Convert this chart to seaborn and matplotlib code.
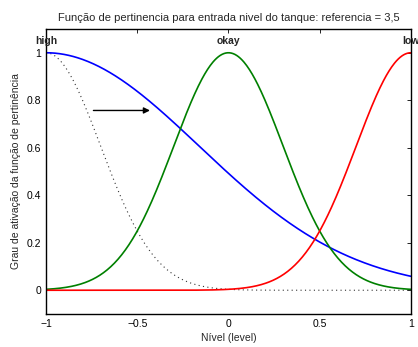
import numpy as np
import pandas as pd
import matplotlib
matplotlib.use("Agg")
import matplotlib.pyplot as plt
import seaborn as sns

# Gaussian membership functions: name, centre, sigma
labels = ["high", "okay", "low"]
centers = [-1.0, 0.0, 1.0]
sigmas = [0.84, 0.30, 0.30]
colors = ["#0000ff", "#008000", "#ff0000"]

# reference curve (dotted) centred at the left end
ref_center = -1.0
ref_sigma = 0.30

# arrow marking the shift of the reference
arrow_start = (-0.74, 0.757)
arrow_end = (-0.43, 0.757)

x_ticks = [-1, -0.5, 0, 0.5, 1]
x_tick_labels = ["\u22121", "\u22120.5", "0", "0.5", "1"]
y_ticks = [0, 0.2, 0.4, 0.6, 0.8, 1]
y_tick_labels = ["0", "0.2", "0.4", "0.6", "0.8", "1"]


def gaussmf(x, c, s):
    return np.exp(-((x - c) ** 2) / (2 * s ** 2))


sns.set_style("white")
plt.rcParams["font.family"] = ["Liberation Sans", "DejaVu Sans"]

x = np.linspace(-1, 1, 401)
frames = []
for name, c, s in zip(labels, centers, sigmas):
    frames.append(pd.DataFrame({"x": x, "y": gaussmf(x, c, s), "mf": name}))
df = pd.concat(frames, ignore_index=True)
ref = pd.DataFrame({"x": x, "y": gaussmf(x, ref_center, ref_sigma)})

fig = plt.figure(figsize=(4.18, 3.47), dpi=100)
ax = fig.add_axes([0.110, 0.0951, 0.873, 0.8213])

sns.lineplot(data=ref, x="x", y="y", ax=ax, color="#333333", lw=0.8,
             linestyle=(0, (1, 3)), legend=False)
sns.lineplot(data=df, x="x", y="y", hue="mf", palette=dict(zip(labels, colors)),
             ax=ax, lw=1.2, legend=False)

for name, c in zip(labels, centers):
    ax.text(c, 1.05, name, ha="center", va="center", fontsize=7.5,
            fontweight="bold", clip_on=False)

ax.annotate("", xy=arrow_end, xytext=arrow_start,
            arrowprops=dict(arrowstyle="-|>", color="black", lw=1.0,
                            mutation_scale=9, shrinkA=0, shrinkB=0))

ax.set_xlim(-1, 1)
ax.set_ylim(-0.1, 1.1)
ax.set_xticks(x_ticks)
ax.set_xticklabels(x_tick_labels)
ax.set_yticks(y_ticks)
ax.set_yticklabels(y_tick_labels)
ax.tick_params(direction="in", length=3, width=0.6, labelsize=7.5,
               top=True, right=True, colors="black")
for sp in ax.spines.values():
    sp.set_visible(True)
    sp.set_color("black")
    sp.set_linewidth(1.0)

ax.set_title("Função de pertinencia para entrada nivel do tanque: referencia = 3,5",
             fontsize=8, pad=6)
ax.set_xlabel("Nível (level)", fontsize=7.5, labelpad=3)
ax.set_ylabel("Grau de ativação da função de pertinência", fontsize=7.5, labelpad=4)

fig.savefig("out.png", dpi=100)
